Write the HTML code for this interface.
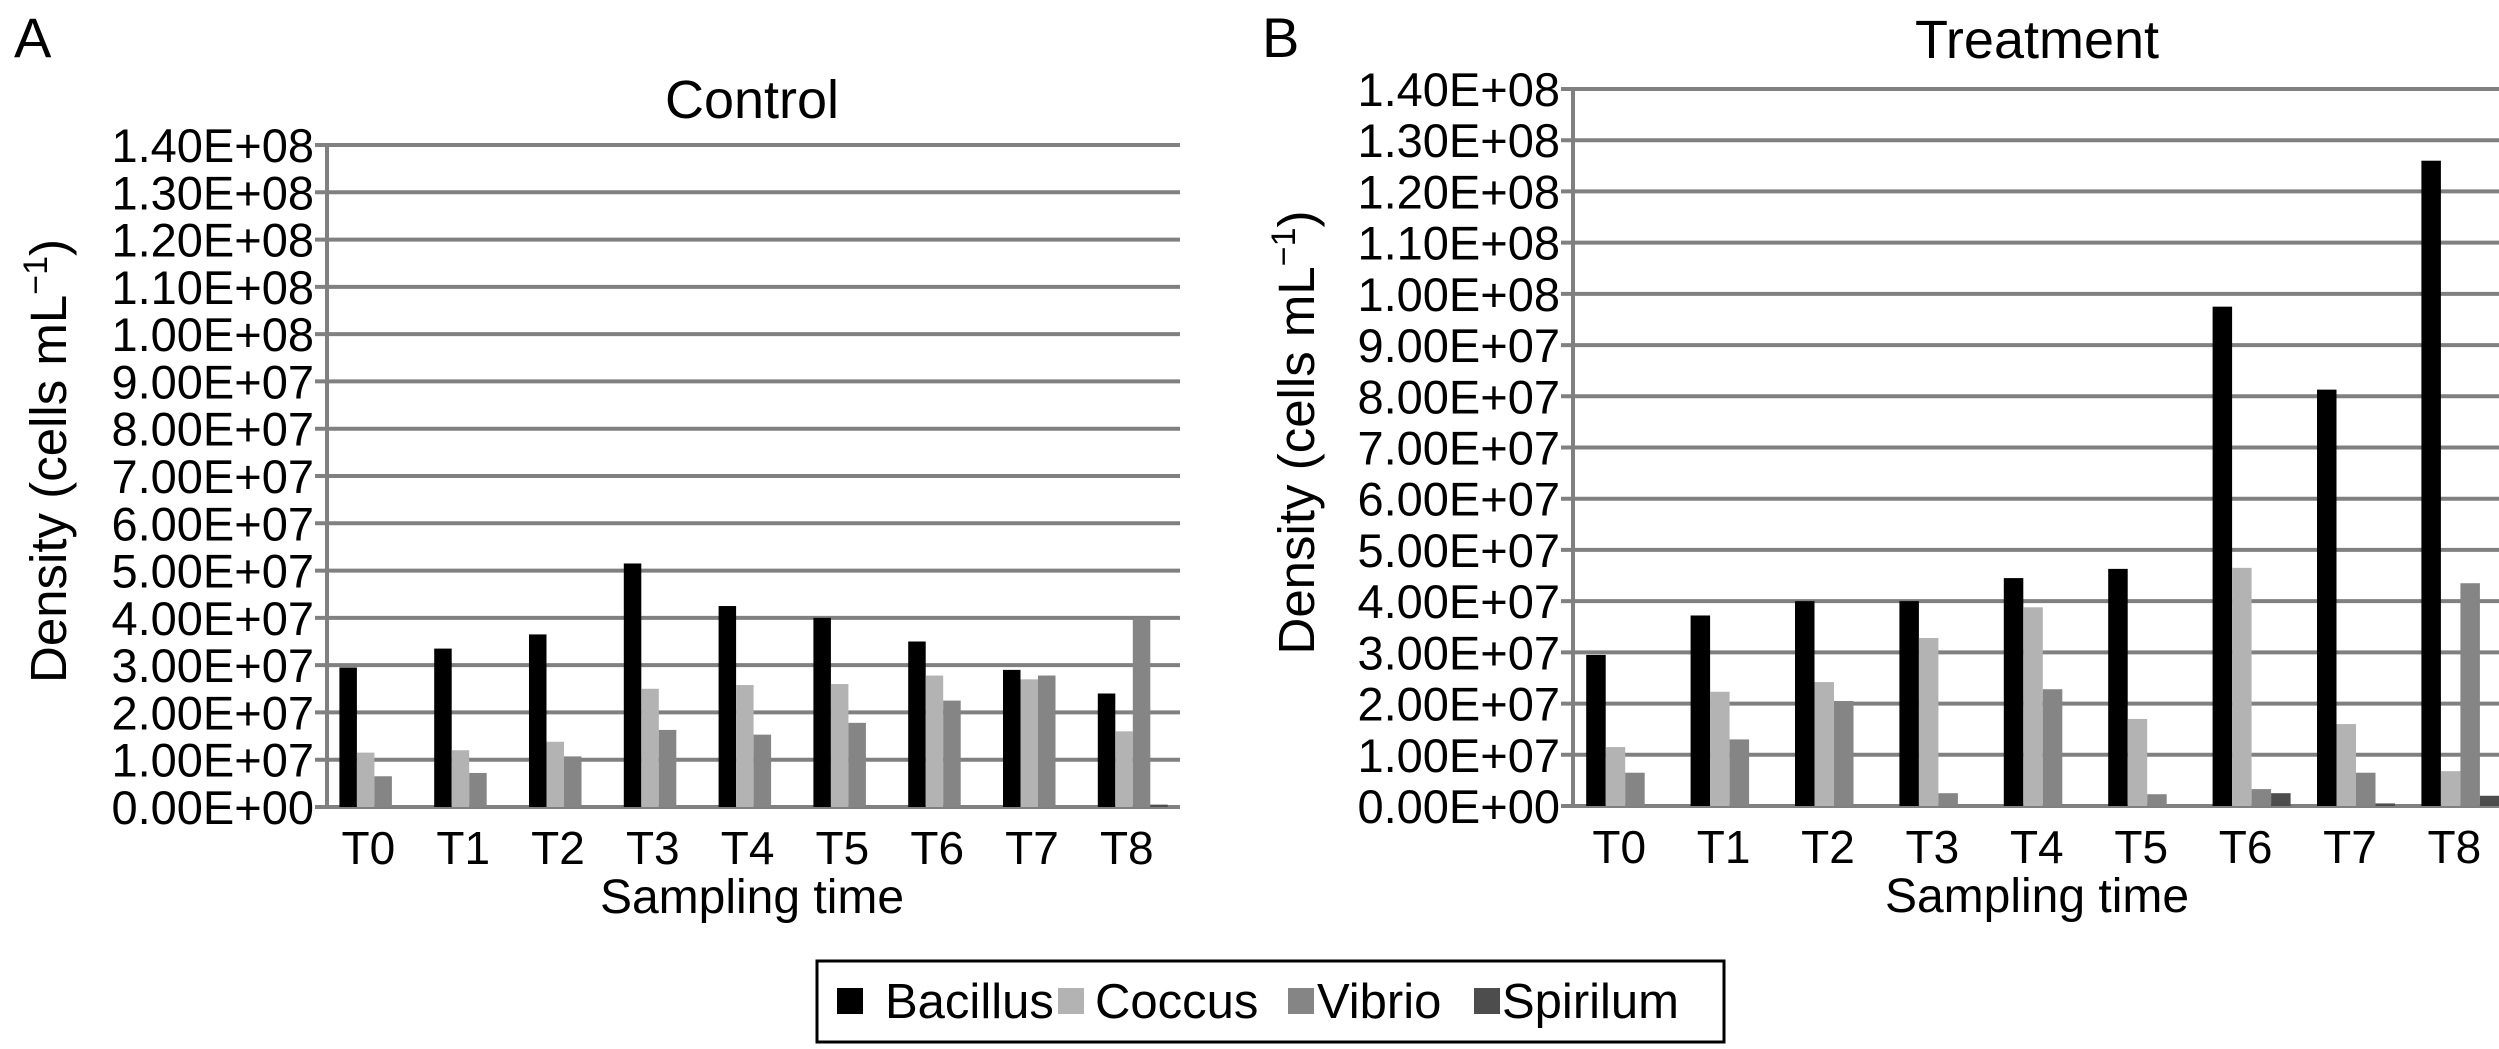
<!DOCTYPE html>
<html><head><meta charset="utf-8"><style>
body{margin:0;background:#fff;width:2499px;height:1044px;overflow:hidden}
svg text{font-family:"Liberation Sans",sans-serif;fill:#000}
</style></head><body>
<svg id="s" width="2499" height="1044" xmlns="http://www.w3.org/2000/svg"></svg>
<script>
const categories=["T0","T1","T2","T3","T4","T5","T6","T7","T8"];
const seriesNames=["Bacillus","Coccus","Vibrio","Spirilum"];
const yTicks=["0.00E+00","1.00E+07","2.00E+07","3.00E+07","4.00E+07","5.00E+07","6.00E+07","7.00E+07","8.00E+07","9.00E+07","1.00E+08","1.10E+08","1.20E+08","1.30E+08","1.40E+08"];
const ctrlBacillus=[2.95e7,3.35e7,3.65e7,5.15e7,4.25e7,4.0e7,3.5e7,2.9e7,2.4e7];
const ctrlCoccus=[1.15e7,1.2e7,1.38e7,2.5e7,2.58e7,2.6e7,2.78e7,2.7e7,1.6e7];
const ctrlVibrio=[0.65e7,0.72e7,1.07e7,1.63e7,1.53e7,1.78e7,2.25e7,2.78e7,4.0e7];
const ctrlSpirilum=[0,0,0,0,0,0,0,0,0.05e7];
const trtBacillus=[2.95e7,3.72e7,4.0e7,4.0e7,4.45e7,4.63e7,9.75e7,8.13e7,12.6e7];
const trtCoccus=[1.15e7,2.23e7,2.42e7,3.28e7,3.88e7,1.7e7,4.65e7,1.6e7,0.68e7];
const trtVibrio=[0.65e7,1.3e7,2.05e7,0.25e7,2.28e7,0.23e7,0.33e7,0.65e7,4.35e7];
const trtSpirilum=[0,0,0,0,0,0,0.25e7,0.05e7,0.2e7];
const colors=["#000000","#b3b3b3","#858585","#4d4d4d"];
const NS="http://www.w3.org/2000/svg";
const svg=document.getElementById('s');
function mk(tag,attrs,parent,txt){const e=document.createElementNS(NS,tag);for(const k in attrs)e.setAttribute(k,attrs[k]);if(txt!==undefined)e.textContent=txt;(parent||svg).appendChild(e);return e;}
function chart(id,ox,x1,top,bot,catW,barW,title,titleX,titleY,xtX,letter,letterX,ytitleX,series){
  const g=mk('g',{},svg);
  
  
  const yMax=1.4e8;
  const Y=v=>bot-(v/yMax)*(bot-top);
  const X=i=>ox+catW*(i+0.5);
  yTicks.forEach((t,i)=>{
    const v=i*1e7;
    const l=mk('line',{x1:ox-12,x2:x1,y1:Y(v),y2:Y(v),stroke:'#808080','stroke-width':4},g);
    
    
    const tx=mk('text',{x:ox-13,y:Y(v)+17,'font-size':47,'text-anchor':'end'},g,t);
    
    
  });
  const ax=mk('line',{x1:ox,x2:ox,y1:top,y2:bot+2,stroke:'#808080','stroke-width':4},g);
  
  
  categories.forEach((c,i)=>{
    const gx=X(i)-2*barW;
    series.forEach((arr,s)=>{
      const v=arr[i];
      const r=mk('rect',{x:gx+s*barW,y:Y(v),width:barW,height:bot-Y(v),fill:colors[s]},g);
      
      
    });
    const t=mk('text',{x:X(i)-6,y:bot+57,'font-size':46,'text-anchor':'middle'},g,c);
    
    
  });
  const tt=mk('text',{x:titleX,y:titleY,'font-size':54,'text-anchor':'middle'},g,title);
  
  
  const xt=mk('text',{x:xtX,y:bot+106,'font-size':48,'text-anchor':'middle'},g,'Sampling time');
  
  
  const cy=(top+bot)/2-15;
  const yt=mk('text',{x:ytitleX,y:cy,'font-size':51,'text-anchor':'middle',transform:'rotate(-90 '+ytitleX+' '+cy+')'},g);
  
  
  mk('tspan',{},yt,'Density (cells mL');
  mk('tspan',{dy:-19,'font-size':34},yt,'\u22121');
  mk('tspan',{dy:19},yt,')');
  const lt=mk('text',{x:letterX,y:57,'font-size':56},g,letter);
  
  
}
chart('control',327,1180,145,807,94.8,17.5,'Control',752,118,752,'A',14,66,[ctrlBacillus,ctrlCoccus,ctrlVibrio,ctrlSpirilum]);
chart('treatment',1573,2513,89,806,104.4,19.5,'Treatment',2037,58,2037,'B',1262,1314,[trtBacillus,trtCoccus,trtVibrio,trtSpirilum]);
const lg=mk('g',{},svg);


mk('rect',{x:817,y:961,width:907,height:81,fill:'none',stroke:'#000','stroke-width':3},lg);
const lx=[[837,885],[1058,1095],[1288,1317],[1474,1502]];
seriesNames.forEach((n,i)=>{
  const sq=mk('rect',{x:lx[i][0],y:988,width:26,height:26,fill:colors[i]},lg);
  
  
  const t=mk('text',{x:lx[i][1],y:1018,'font-size':49},lg,n);
  
  
});
</script>
</body></html>
